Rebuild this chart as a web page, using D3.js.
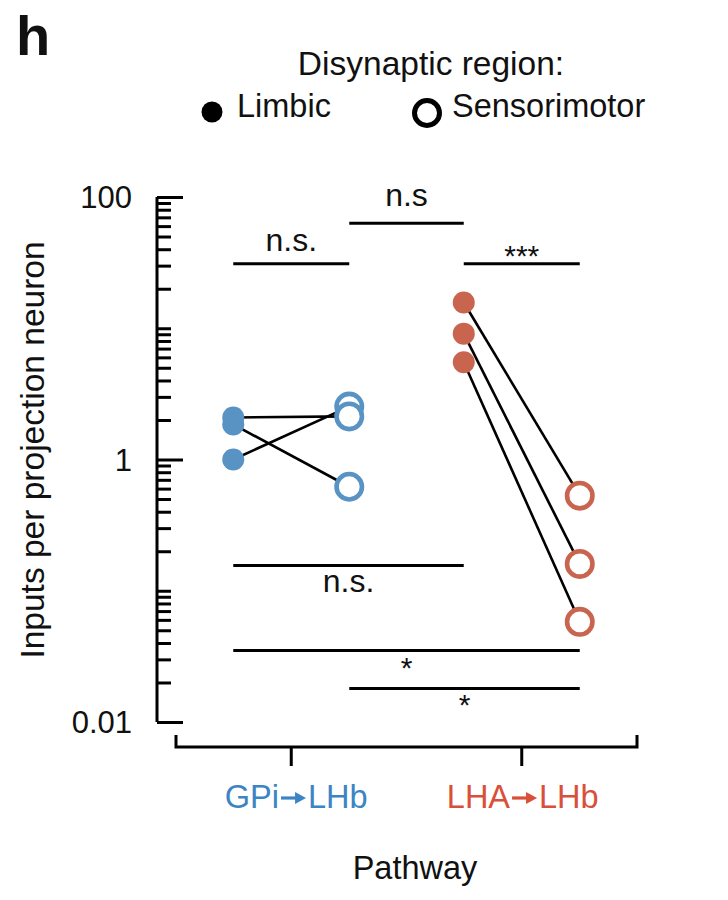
<!DOCTYPE html>
<html>
<head>
<meta charset="utf-8">
<script src="https://cdn.jsdelivr.net/npm/d3@7"></script>
<style>
  body { margin: 0; background: #fff; }
  svg text { font-family: "Liberation Sans", Arial, sans-serif; fill: #111; }
</style>
</head>
<body>
<div id="chart"></div>
<script>
// values (inputs per projection neuron, log scale)
const pathways = ["GPi→LHb", "LHA→LHb"];
const regions = ["Limbic", "Sensorimotor"];
const gpiLimbic = [2.09, 1.85, 1.0];
const gpiSensorimotor = [2.13, 0.62, 2.53];
const lhaLimbic = [15.7, 9.1, 5.5];
const lhaSensorimotor = [0.53, 0.16, 0.058];
const yTickLabels = [0.01, 1, 100];

// significance brackets: [pathway, region] -> [pathway, region], height, label, side
const sigFrom = [[0, 0], [0, 1], [1, 0], [0, 0], [0, 0], [0, 1]];
const sigTo = [[0, 1], [1, 0], [1, 1], [1, 0], [1, 1], [1, 1]];
const sigValue = [31, 63, 31, 0.156, 0.035, 0.018];
const sigLabel = ["n.s.", "n.s", "***", "n.s.", "*", "*"];
const sigSide = ["above", "above", "above", "below", "below", "below"];

const colors = { "GPi→LHb": "#5893c4", "LHA→LHb": "#c9654f" };
const labelColors = { "GPi→LHb": "#3c84c4", "LHA→LHb": "#d9503a" };

const W = 728, H = 900;
const svg = d3.select("#chart").append("svg")
  .attr("width", W).attr("height", H);

// scales
const y = d3.scaleLog().domain([0.01, 100]).range([722, 197]);
const x = d3.scaleBand().domain(pathways).range([176, 637]);
const xr = d3.scalePoint().domain(regions).range([-58, 58]);
const px = (p, r) => x(pathways[p]) + x.bandwidth() / 2 + xr(regions[r]);

// panel letter
svg.append("text").attr("x", 16).attr("y", 55)
  .style("font-size", "56px").style("font-weight", "bold").text("h");

// legend
svg.append("text").attr("x", 431).attr("y", 75)
  .attr("text-anchor", "middle").style("font-size", "33.5px")
  .text("Disynaptic region:");
svg.append("circle").attr("cx", 212).attr("cy", 112).attr("r", 10.5).attr("fill", "#000");
svg.append("text").attr("x", 237).attr("y", 117).style("font-size", "32.5px").text("Limbic");
svg.append("circle").attr("cx", 427).attr("cy", 113).attr("r", 12.5)
  .attr("fill", "none").attr("stroke", "#000").attr("stroke-width", 5);
svg.append("text").attr("x", 452).attr("y", 117).style("font-size", "32.5px").text("Sensorimotor");

// y axis - long ticks on labelled decades, short on the rest
const allTicks = y.ticks();
const yAxisMinor = d3.axisRight(y).tickValues(allTicks.filter(d => !yTickLabels.includes(d)))
  .tickSize(14).tickFormat("");
const yAxisMajor = d3.axisRight(y).tickValues(yTickLabels).tickSize(26).tickFormat("");
svg.append("g").attr("transform", "translate(157,0)").call(yAxisMinor)
  .call(g => g.selectAll("line,path").attr("stroke", "#000").attr("stroke-width", 3))
  .call(g => g.select(".domain").attr("d", `M0,${y(0.01)}V${y(100)}`));
svg.append("g").attr("transform", "translate(157,0)").call(yAxisMajor)
  .call(g => g.selectAll("line").attr("stroke", "#000").attr("stroke-width", 3))
  .call(g => g.select(".domain").remove());
svg.append("g").selectAll("text").data(yTickLabels).join("text")
  .attr("x", 132).attr("y", d => y(d)).attr("dy", "0.36em")
  .attr("text-anchor", "end").style("font-size", "31px")
  .text(d => d3.format("~g")(d));

svg.append("text")
  .attr("transform", "translate(44,450) rotate(-90)")
  .attr("text-anchor", "middle").style("font-size", "33.5px")
  .text("Inputs per projection neuron");

// x axis bracket
svg.append("path")
  .attr("d", `M176,735V747H637V735`)
  .attr("fill", "none").attr("stroke", "#000").attr("stroke-width", 3);
svg.append("g").selectAll("line").data(pathways).join("line")
  .attr("x1", d => x(d) + x.bandwidth() / 2).attr("x2", d => x(d) + x.bandwidth() / 2)
  .attr("y1", 747).attr("y2", 766)
  .attr("stroke", "#000").attr("stroke-width", 3);

// category labels with a drawn arrow
pathways.forEach((p, i) => {
  const [a, b] = p.split("→");
  const g = svg.append("g")
    .attr("transform", `translate(${x(p) + x.bandwidth() / 2 + (i === 0 ? 5 : 1)},808)`);
  const t1 = g.append("text").style("font-size", "32.5px").style("fill", labelColors[p]).text(a);
  const t2 = g.append("text").style("font-size", "32.5px").style("fill", labelColors[p]).text(b);
  const w1 = t1.node().getComputedTextLength();
  const w2 = t2.node().getComputedTextLength();
  const aw = 25, gap = 2;
  const start = -(w1 + gap + aw + gap + w2) / 2;
  t1.attr("x", start);
  const ax = start + w1 + gap;
  g.append("line").attr("x1", ax).attr("x2", ax + aw - 9).attr("y1", -10).attr("y2", -10)
    .attr("stroke", labelColors[p]).attr("stroke-width", 3.2);
  g.append("path").attr("d", `M${ax + aw - 11},-16L${ax + aw},-10L${ax + aw - 11},-4Z`)
    .attr("fill", labelColors[p]);
  t2.attr("x", ax + aw + gap);
});

svg.append("text").attr("x", 415).attr("y", 879)
  .attr("text-anchor", "middle").style("font-size", "32.5px").text("Pathway");

// significance brackets
sigValue.forEach((v, i) => {
  const x1 = px(...sigFrom[i]), x2 = px(...sigTo[i]);
  svg.append("line").attr("x1", x1).attr("x2", x2).attr("y1", y(v)).attr("y2", y(v))
    .attr("stroke", "#000").attr("stroke-width", 3);
  const stars = sigLabel[i].startsWith("*");
  let dy = sigSide[i] === "above" ? (stars ? 2 : -13) : 27;
  if (sigLabel[i] === "n.s") dy = -17;
  svg.append("text").attr("x", (x1 + x2) / 2).attr("y", y(v) + dy)
    .attr("text-anchor", "middle")
    .style("font-size", stars ? "30px" : "32px")
    .text(sigLabel[i]);
});

// paired data
const pairs = [
  { p: 0, lim: gpiLimbic, sen: gpiSensorimotor },
  { p: 1, lim: lhaLimbic, sen: lhaSensorimotor }
];
pairs.forEach(d => {
  const col = colors[pathways[d.p]];
  const xl = px(d.p, 0), xs = px(d.p, 1);
  svg.append("g").selectAll("line").data(d3.range(d.lim.length)).join("line")
    .attr("x1", xl).attr("x2", xs)
    .attr("y1", i => y(d.lim[i])).attr("y2", i => y(d.sen[i]))
    .attr("stroke", "#000").attr("stroke-width", 2.6);
  svg.append("g").selectAll("circle").data(d.lim).join("circle")
    .attr("cx", xl).attr("cy", v => y(v)).attr("r", 11).attr("fill", col);
  // higher circles first so lower ones sit on top where they overlap
  svg.append("g").selectAll("circle").data(d.sen.slice().sort(d3.descending)).join("circle")
    .attr("cx", xs).attr("cy", v => y(v)).attr("r", 12.7)
    .attr("fill", "#fff").attr("stroke", col).attr("stroke-width", 4.6);
});
</script>
</body>
</html>
